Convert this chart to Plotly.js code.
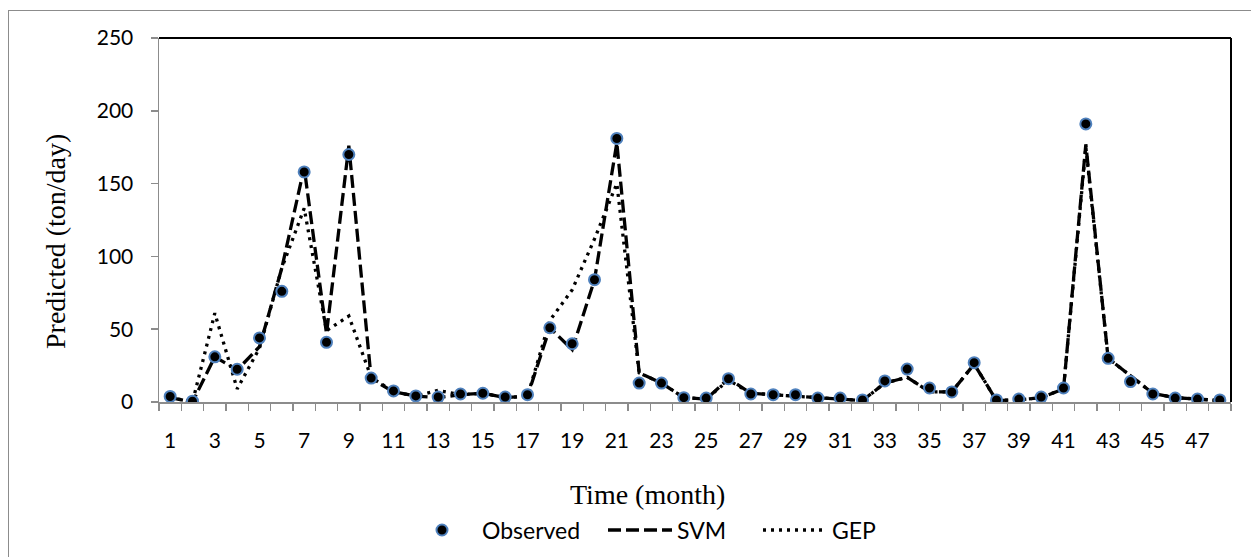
<!DOCTYPE html>
<html>
<head>
<meta charset="utf-8">
<script src="https://cdn.plot.ly/plotly-3.0.1.min.js"></script>
<style>
  html, body { margin: 0; padding: 0; background: #fff; }
  #chart { width: 1251px; height: 557px; }
  #frame { position: absolute; left: 8px; top: 10px; width: 1260px; height: 560px;
           border: 1.5px solid #8c8c8c; pointer-events: none; box-sizing: border-box; }
</style>
</head>
<body>
<div id="chart"></div>
<div id="frame"></div>
<script>
const months = Array.from({length: 48}, (_, i) => i + 1);
const tickLabels = [1,3,5,7,9,11,13,15,17,19,21,23,25,27,29,31,33,35,37,39,41,43,45,47];

const observed = [3.8, 0.6, 31, 22.5, 44, 76, 158, 41, 170, 16.4, 7.6, 4.2, 3.4, 5.5, 6, 3.4, 5, 51, 40, 84, 181, 13, 13, 3, 2.7, 16, 5.5, 5, 5, 2.7, 2.7, 1.4, 14.5, 22.6, 9.6, 6.9, 27, 1.4, 2, 3.4, 9.6, 191, 30, 14, 5.5, 2.7, 2, 1.4];
const svm = [3, 0, 31, 22, 38, 92, 161, 47, 176, 16, 7, 4, 3, 5, 6, 3, 4, 51, 36, 84, 178, 20, 13, 3, 2, 16, 6, 5, 4, 2.5, 2, 1, 13, 17, 7, 7, 26, 1, 1.5, 3, 9, 177, 30, 18, 6, 3, 2, 1];
const gep = [3, 0, 61, 9, 37, 92, 133, 49, 59, 17, 7, 4, 8, 5, 6, 3, 4, 56, 77, 112, 150, 20, 13, 3, 2, 15, 6, 5, 4, 2.5, 2, 1, 13, 17, 7, 7, 26, 1, 1.5, 3, 9, 175, 30, 18, 6, 3, 2, 1];

const seriesNames = ['Observed', 'SVM', 'GEP'];

const traces = [
  { x: months, y: svm, name: seriesNames[1], type: 'scatter', mode: 'lines',
    line: { color: '#000', width: 3.3, dash: '13px,5px' } },
  { x: months, y: gep, name: seriesNames[2], type: 'scatter', mode: 'lines',
    line: { color: '#000', width: 3.3, dash: '3px,5px' } },
  { x: months, y: observed, name: seriesNames[0], type: 'scatter', mode: 'markers',
    marker: { color: '#000', size: 11, line: { color: '#4f81bd', width: 2 } } }
];

const L = 159, R = 1231, T = 38, B = 402;
const W = 1251, H = 557;
const px2x = p => (p - L) / (R - L);
const py2y = p => (B - p) / (B - T);

const legY = py2y(530);
const legFont = { family: 'Lato, "Open Sans", sans-serif', size: 23, color: '#000' };
const titleFont = { family: '"Liberation Serif", "Times New Roman", serif', size: 28, color: '#000' };

const layout = {
  width: W, height: H,
  margin: { l: L, r: W - R, t: T, b: H - B },
  paper_bgcolor: '#fff', plot_bgcolor: '#fff',
  font: { family: 'Lato, "Open Sans", sans-serif', size: 21, color: '#000' },
  showlegend: false,
  xaxis: {
    range: [0.5, 48.5], tickmode: 'array', tickvals: tickLabels, ticktext: tickLabels.map(String),
    ticks: '', showgrid: false, zeroline: false, showline: true, linecolor: '#8c8c8c', linewidth: 1.5,
    ticklabelstandoff: 19,
    minor: { tickmode: 'linear', tick0: 0.5, dtick: 1, ticks: 'outside', ticklen: 7, tickcolor: '#8c8c8c', tickwidth: 1.5, showgrid: false },
    tickfont: { family: 'Lato, sans-serif', size: 21, color: '#000' }
  },
  yaxis: {
    range: [0, 250], dtick: 50, ticks: 'outside', ticklen: 7, tickcolor: '#8c8c8c', tickwidth: 1.5,
    showgrid: false, zeroline: false, showline: true, linecolor: '#8c8c8c', linewidth: 1.5,
    ticklabelstandoff: 13,
    tickfont: { family: 'Lato, sans-serif', size: 21, color: '#000' }
  },
  shapes: [
    { type: 'line', xref: 'paper', yref: 'paper', x0: 0, x1: 1, y0: 1, y1: 1, line: { color: '#000', width: 2 } },
    { type: 'line', xref: 'paper', yref: 'paper', x0: 1, x1: 1, y0: 0, y1: 1, line: { color: '#000', width: 2 } },
    // legend symbols
    { type: 'circle', xref: 'paper', yref: 'paper', x0: px2x(436.5), x1: px2x(447.5), y0: py2y(535.5), y1: py2y(524.5),
      fillcolor: '#000', line: { color: '#4f81bd', width: 2 } },
    { type: 'line', xref: 'paper', yref: 'paper', x0: px2x(608), x1: px2x(672), y0: legY, y1: legY,
      line: { color: '#000', width: 3.3, dash: '13px,5px' } },
    { type: 'line', xref: 'paper', yref: 'paper', x0: px2x(763), x1: px2x(822), y0: legY, y1: legY,
      line: { color: '#000', width: 3.3, dash: '3px,5px' } }
  ],
  annotations: [
    { text: 'Time (month)', xref: 'paper', yref: 'paper', x: px2x(647), y: py2y(494), xanchor: 'center', yanchor: 'middle',
      showarrow: false, font: titleFont },
    { text: 'Predicted (ton/day)', xref: 'paper', yref: 'paper', x: px2x(55), y: py2y(242), xanchor: 'center', yanchor: 'middle',
      textangle: -90, showarrow: false, font: titleFont },
    { text: seriesNames[0], xref: 'paper', yref: 'paper', x: px2x(480), y: legY, xanchor: 'left', yanchor: 'middle',
      showarrow: false, font: legFont },
    { text: seriesNames[1], xref: 'paper', yref: 'paper', x: px2x(675), y: legY, xanchor: 'left', yanchor: 'middle',
      showarrow: false, font: legFont },
    { text: seriesNames[2], xref: 'paper', yref: 'paper', x: px2x(830), y: legY, xanchor: 'left', yanchor: 'middle',
      showarrow: false, font: legFont }
  ]
};

Plotly.newPlot('chart', traces, layout, { displayModeBar: false, staticPlot: true });
</script>
</body>
</html>
